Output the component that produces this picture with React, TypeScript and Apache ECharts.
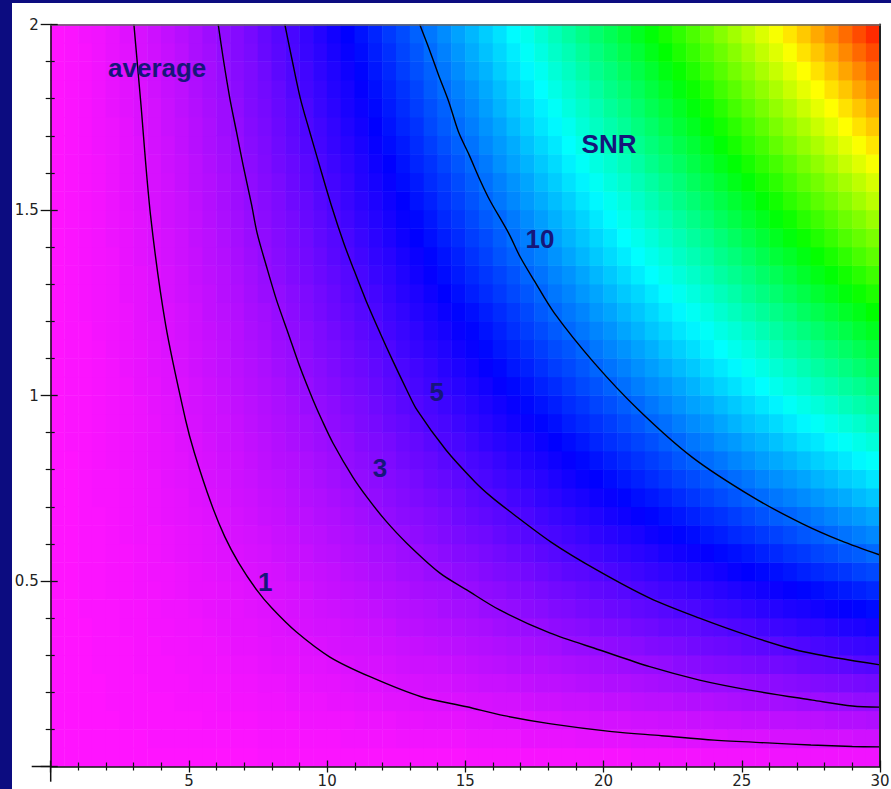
import { useEffect, useRef } from 'react';
import * as echarts from 'echarts';

// Heatmap cell centres (x: 0.5 unit, y: 0.05 unit)
const xCells = ['0.25','0.75','1.25','1.75','2.25','2.75','3.25','3.75','4.25','4.75','5.25','5.75','6.25','6.75','7.25','7.75','8.25','8.75','9.25','9.75','10.25','10.75','11.25','11.75','12.25','12.75','13.25','13.75','14.25','14.75','15.25','15.75','16.25','16.75','17.25','17.75','18.25','18.75','19.25','19.75','20.25','20.75','21.25','21.75','22.25','22.75','23.25','23.75','24.25','24.75','25.25','25.75','26.25','26.75','27.25','27.75','28.25','28.75','29.25','29.75'];
const yCells = ['0.025','0.075','0.125','0.175','0.225','0.275','0.325','0.375','0.425','0.475','0.525','0.575','0.625','0.675','0.725','0.775','0.825','0.875','0.925','0.975','1.025','1.075','1.125','1.175','1.225','1.275','1.325','1.375','1.425','1.475','1.525','1.575','1.625','1.675','1.725','1.775','1.825','1.875','1.925','1.975'];

// SNR per cell, rows from bottom (y=0.025) to top (y=1.975)
const snrRows: number[][] = [
  [0,0,0,0,0,0,0,0,0,0, 0,0,0,0,0,0.1,0.1,0.1,0.1,0.1, 0.1,0.1,0.1,0.1,0.1,0.1,0.1,0.1,0.1,0.1, 0.2,0.2,0.2,0.2,0.2,0.2,0.2,0.2,0.2,0.2, 0.2,0.2,0.3,0.3,0.3,0.3,0.3,0.3,0.3,0.3, 0.3,0.3,0.4,0.4,0.4,0.4,0.4,0.4,0.4,0.4],
  [0,0,0,0,0,0,0,0.1,0.1,0.1, 0.1,0.1,0.1,0.1,0.1,0.2,0.2,0.2,0.2,0.2, 0.2,0.3,0.3,0.3,0.3,0.4,0.4,0.4,0.4,0.4, 0.5,0.5,0.5,0.5,0.6,0.6,0.6,0.6,0.7,0.7, 0.7,0.7,0.8,0.8,0.8,0.9,0.9,0.9,0.9,1.0, 1.0,1.0,1.1,1.1,1.1,1.2,1.2,1.2,1.3,1.3],
  [0,0,0,0,0,0.1,0.1,0.1,0.1,0.1, 0.1,0.2,0.2,0.2,0.2,0.3,0.3,0.3,0.4,0.4, 0.4,0.4,0.5,0.5,0.5,0.6,0.6,0.7,0.7,0.7, 0.8,0.8,0.9,0.9,0.9,1.0,1.0,1.1,1.1,1.2, 1.2,1.2,1.3,1.3,1.4,1.4,1.5,1.5,1.6,1.6, 1.7,1.7,1.8,1.8,1.9,1.9,2.0,2.1,2.1,2.2],
  [0,0,0,0,0.1,0.1,0.1,0.1,0.1,0.2, 0.2,0.2,0.3,0.3,0.3,0.4,0.4,0.5,0.5,0.5, 0.6,0.6,0.7,0.7,0.8,0.8,0.9,0.9,1.0,1.0, 1.1,1.1,1.2,1.2,1.3,1.4,1.4,1.5,1.5,1.6, 1.7,1.7,1.8,1.9,1.9,2.0,2.1,2.1,2.2,2.3, 2.4,2.4,2.5,2.6,2.7,2.7,2.8,2.9,3.0,3.0],
  [0,0,0,0,0.1,0.1,0.1,0.2,0.2,0.2, 0.3,0.3,0.3,0.4,0.4,0.5,0.5,0.6,0.6,0.7, 0.7,0.8,0.9,0.9,1.0,1.1,1.1,1.2,1.2,1.3, 1.4,1.5,1.5,1.6,1.7,1.8,1.8,1.9,2.0,2.1, 2.2,2.2,2.3,2.4,2.5,2.6,2.7,2.8,2.8,2.9, 3.0,3.1,3.2,3.3,3.4,3.5,3.6,3.7,3.8,3.9],
  [0,0,0,0.1,0.1,0.1,0.2,0.2,0.2,0.3, 0.3,0.4,0.4,0.5,0.5,0.6,0.7,0.7,0.8,0.8, 0.9,1.0,1.1,1.1,1.2,1.3,1.4,1.4,1.5,1.6, 1.7,1.8,1.9,2.0,2.1,2.1,2.2,2.3,2.4,2.5, 2.6,2.7,2.8,2.9,3.0,3.2,3.3,3.4,3.5,3.6, 3.7,3.8,3.9,4.0,4.2,4.3,4.4,4.5,4.7,4.8],
  [0,0,0,0.1,0.1,0.1,0.2,0.2,0.3,0.3, 0.4,0.4,0.5,0.6,0.6,0.7,0.8,0.8,0.9,1.0, 1.1,1.2,1.2,1.3,1.4,1.5,1.6,1.7,1.8,1.9, 2.0,2.1,2.2,2.3,2.4,2.5,2.6,2.8,2.9,3.0, 3.1,3.2,3.3,3.5,3.6,3.7,3.9,4.0,4.1,4.2, 4.4,4.5,4.6,4.8,4.9,5.1,5.2,5.4,5.5,5.6],
  [0,0,0,0.1,0.1,0.2,0.2,0.3,0.3,0.4, 0.4,0.5,0.6,0.7,0.7,0.8,0.9,1.0,1.1,1.2, 1.2,1.3,1.4,1.5,1.6,1.8,1.9,2.0,2.1,2.2, 2.3,2.4,2.6,2.7,2.8,2.9,3.1,3.2,3.3,3.5, 3.6,3.7,3.9,4.0,4.2,4.3,4.4,4.6,4.7,4.9, 5.0,5.2,5.4,5.5,5.7,5.8,6.0,6.2,6.3,6.5],
  [0,0,0.1,0.1,0.1,0.2,0.2,0.3,0.4,0.4, 0.5,0.6,0.7,0.7,0.8,0.9,1.0,1.1,1.2,1.3, 1.4,1.5,1.6,1.7,1.9,2.0,2.1,2.2,2.4,2.5, 2.6,2.8,2.9,3.0,3.2,3.3,3.5,3.6,3.8,3.9, 4.1,4.2,4.4,4.5,4.7,4.9,5.0,5.2,5.4,5.5, 5.7,5.9,6.1,6.3,6.4,6.6,6.8,7.0,7.2,7.4],
  [0,0,0.1,0.1,0.2,0.2,0.3,0.3,0.4,0.5, 0.6,0.6,0.7,0.8,0.9,1.0,1.1,1.2,1.3,1.5, 1.6,1.7,1.8,2.0,2.1,2.2,2.4,2.5,2.6,2.8, 2.9,3.1,3.2,3.4,3.5,3.7,3.9,4.0,4.2,4.4, 4.5,4.7,4.9,5.1,5.3,5.4,5.6,5.8,6.0,6.2, 6.4,6.6,6.8,7.0,7.2,7.4,7.6,7.8,8.0,8.2],
  [0,0,0.1,0.1,0.2,0.2,0.3,0.4,0.4,0.5, 0.6,0.7,0.8,0.9,1.0,1.1,1.2,1.4,1.5,1.6, 1.7,1.9,2.0,2.2,2.3,2.5,2.6,2.8,2.9,3.1, 3.2,3.4,3.6,3.7,3.9,4.1,4.3,4.5,4.6,4.8, 5.0,5.2,5.4,5.6,5.8,6.0,6.2,6.4,6.6,6.9, 7.1,7.3,7.5,7.7,8.0,8.2,8.4,8.6,8.9,9.1],
  [0,0,0.1,0.1,0.2,0.2,0.3,0.4,0.5,0.6, 0.7,0.8,0.9,1.0,1.1,1.2,1.4,1.5,1.6,1.8, 1.9,2.1,2.2,2.4,2.5,2.7,2.8,3.0,3.2,3.4, 3.5,3.7,3.9,4.1,4.3,4.5,4.7,4.9,5.1,5.3, 5.5,5.7,5.9,6.1,6.4,6.6,6.8,7.0,7.3,7.5, 7.7,8.0,8.2,8.5,8.7,9.0,9.2,9.5,9.7,10.0],
  [0,0,0.1,0.1,0.2,0.3,0.4,0.4,0.5,0.6, 0.7,0.8,1.0,1.1,1.2,1.3,1.5,1.6,1.8,1.9, 2.1,2.2,2.4,2.6,2.7,2.9,3.1,3.3,3.5,3.7, 3.9,4.0,4.3,4.5,4.7,4.9,5.1,5.3,5.5,5.8, 6.0,6.2,6.4,6.7,6.9,7.2,7.4,7.7,7.9,8.2, 8.4,8.7,8.9,9.2,9.5,9.7,10.0,10.3,10.6,10.9],
  [0,0,0.1,0.1,0.2,0.3,0.4,0.5,0.6,0.7, 0.8,0.9,1.0,1.2,1.3,1.5,1.6,1.8,1.9,2.1, 2.2,2.4,2.6,2.8,3.0,3.2,3.3,3.5,3.7,4.0, 4.2,4.4,4.6,4.8,5.0,5.3,5.5,5.7,6.0,6.2, 6.5,6.7,7.0,7.2,7.5,7.7,8.0,8.3,8.5,8.8, 9.1,9.4,9.7,9.9,10.2,10.5,10.8,11.1,11.4,11.7],
  [0,0,0.1,0.2,0.2,0.3,0.4,0.5,0.6,0.7, 0.9,1.0,1.1,1.3,1.4,1.6,1.7,1.9,2.1,2.2, 2.4,2.6,2.8,3.0,3.2,3.4,3.6,3.8,4.0,4.2, 4.5,4.7,4.9,5.2,5.4,5.7,5.9,6.2,6.4,6.7, 6.9,7.2,7.5,7.7,8.0,8.3,8.6,8.9,9.2,9.5, 9.8,10.1,10.4,10.7,11.0,11.3,11.6,11.9,12.3,12.6],
  [0,0,0.1,0.2,0.2,0.3,0.4,0.5,0.7,0.8, 0.9,1.1,1.2,1.4,1.5,1.7,1.8,2.0,2.2,2.4, 2.6,2.8,3.0,3.2,3.4,3.6,3.8,4.1,4.3,4.5, 4.8,5.0,5.3,5.5,5.8,6.0,6.3,6.6,6.9,7.1, 7.4,7.7,8.0,8.3,8.6,8.9,9.2,9.5,9.8,10.1, 10.4,10.8,11.1,11.4,11.7,12.1,12.4,12.8,13.1,13.5],
  [0,0,0.1,0.2,0.3,0.4,0.5,0.6,0.7,0.8, 1.0,1.1,1.3,1.4,1.6,1.8,2.0,2.1,2.3,2.5, 2.7,3.0,3.2,3.4,3.6,3.9,4.1,4.3,4.6,4.8, 5.1,5.3,5.6,5.9,6.2,6.4,6.7,7.0,7.3,7.6, 7.9,8.2,8.5,8.8,9.1,9.5,9.8,10.1,10.4,10.8, 11.1,11.5,11.8,12.1,12.5,12.9,13.2,13.6,14.0,14.3],
  [0,0.1,0.1,0.2,0.3,0.4,0.5,0.6,0.7,0.9, 1.0,1.2,1.4,1.5,1.7,1.9,2.1,2.3,2.5,2.7, 2.9,3.1,3.4,3.6,3.8,4.1,4.3,4.6,4.9,5.1, 5.4,5.7,6.0,6.2,6.5,6.8,7.1,7.4,7.7,8.1, 8.4,8.7,9.0,9.3,9.7,10.0,10.4,10.7,11.1,11.4, 11.8,12.1,12.5,12.9,13.3,13.6,14.0,14.4,14.8,15.2],
  [0,0.1,0.1,0.2,0.3,0.4,0.5,0.6,0.8,0.9, 1.1,1.3,1.4,1.6,1.8,2.0,2.2,2.4,2.6,2.8, 3.1,3.3,3.6,3.8,4.1,4.3,4.6,4.9,5.1,5.4, 5.7,6.0,6.3,6.6,6.9,7.2,7.5,7.9,8.2,8.5, 8.8,9.2,9.5,9.9,10.2,10.6,11.0,11.3,11.7,12.1, 12.5,12.8,13.2,13.6,14.0,14.4,14.8,15.2,15.6,16.1],
  [0,0.1,0.1,0.2,0.3,0.4,0.5,0.7,0.8,1.0, 1.2,1.3,1.5,1.7,1.9,2.1,2.3,2.5,2.8,3.0, 3.2,3.5,3.7,4.0,4.3,4.6,4.8,5.1,5.4,5.7, 6.0,6.3,6.6,6.9,7.3,7.6,7.9,8.3,8.6,9.0, 9.3,9.7,10.0,10.4,10.8,11.2,11.6,11.9,12.3,12.7, 13.1,13.5,13.9,14.4,14.8,15.2,15.6,16.1,16.5,16.9],
  [0,0.1,0.1,0.2,0.3,0.4,0.6,0.7,0.9,1.0, 1.2,1.4,1.6,1.8,2.0,2.2,2.4,2.7,2.9,3.2, 3.4,3.7,3.9,4.2,4.5,4.8,5.1,5.4,5.7,6.0, 6.3,6.6,7.0,7.3,7.6,8.0,8.3,8.7,9.1,9.4, 9.8,10.2,10.6,11.0,11.3,11.7,12.1,12.6,13.0,13.4, 13.8,14.2,14.7,15.1,15.5,16.0,16.4,16.9,17.3,17.8],
  [0,0.1,0.1,0.2,0.3,0.5,0.6,0.8,0.9,1.1, 1.3,1.5,1.7,1.9,2.1,2.3,2.6,2.8,3.1,3.3, 3.6,3.9,4.1,4.4,4.7,5.0,5.3,5.6,6.0,6.3, 6.6,7.0,7.3,7.7,8.0,8.4,8.8,9.1,9.5,9.9, 10.3,10.7,11.1,11.5,11.9,12.3,12.7,13.2,13.6,14.0, 14.5,14.9,15.4,15.8,16.3,16.8,17.2,17.7,18.2,18.7],
  [0,0.1,0.1,0.2,0.4,0.5,0.6,0.8,1.0,1.1, 1.3,1.5,1.7,2.0,2.2,2.4,2.7,2.9,3.2,3.5, 3.7,4.0,4.3,4.6,4.9,5.3,5.6,5.9,6.2,6.6, 6.9,7.3,7.7,8.0,8.4,8.8,9.2,9.5,9.9,10.4, 10.8,11.2,11.6,12.0,12.5,12.9,13.3,13.8,14.2,14.7, 15.1,15.6,16.1,16.6,17.0,17.5,18.0,18.5,19.0,19.5],
  [0,0.1,0.1,0.3,0.4,0.5,0.7,0.8,1.0,1.2, 1.4,1.6,1.8,2.0,2.3,2.5,2.8,3.1,3.3,3.6, 3.9,4.2,4.5,4.8,5.2,5.5,5.8,6.2,6.5,6.9, 7.2,7.6,8.0,8.4,8.8,9.2,9.6,10.0,10.4,10.8, 11.2,11.7,12.1,12.6,13.0,13.5,13.9,14.4,14.9,15.3, 15.8,16.3,16.8,17.3,17.8,18.3,18.8,19.3,19.9,20.4],
  [0,0.1,0.2,0.3,0.4,0.5,0.7,0.9,1.0,1.2, 1.4,1.7,1.9,2.1,2.4,2.6,2.9,3.2,3.5,3.8, 4.1,4.4,4.7,5.0,5.4,5.7,6.1,6.4,6.8,7.2, 7.5,7.9,8.3,8.7,9.1,9.6,10.0,10.4,10.8,11.3, 11.7,12.2,12.6,13.1,13.6,14.0,14.5,15.0,15.5,16.0, 16.5,17.0,17.5,18.0,18.6,19.1,19.6,20.2,20.7,21.3],
  [0,0.1,0.2,0.3,0.4,0.6,0.7,0.9,1.1,1.3, 1.5,1.7,2.0,2.2,2.5,2.8,3.0,3.3,3.6,3.9, 4.2,4.6,4.9,5.2,5.6,6.0,6.3,6.7,7.1,7.5, 7.9,8.3,8.7,9.1,9.5,9.9,10.4,10.8,11.3,11.7, 12.2,12.7,13.1,13.6,14.1,14.6,15.1,15.6,16.1,16.6, 17.2,17.7,18.2,18.8,19.3,19.9,20.4,21.0,21.6,22.1],
  [0,0.1,0.2,0.3,0.4,0.6,0.7,0.9,1.1,1.3, 1.6,1.8,2.0,2.3,2.6,2.9,3.2,3.5,3.8,4.1, 4.4,4.7,5.1,5.5,5.8,6.2,6.6,7.0,7.4,7.8, 8.2,8.6,9.0,9.4,9.9,10.3,10.8,11.2,11.7,12.2, 12.7,13.2,13.7,14.2,14.7,15.2,15.7,16.2,16.8,17.3, 17.8,18.4,18.9,19.5,20.1,20.7,21.2,21.8,22.4,23.0],
  [0,0.1,0.2,0.3,0.4,0.6,0.8,1.0,1.2,1.4, 1.6,1.9,2.1,2.4,2.7,3.0,3.3,3.6,3.9,4.2, 4.6,4.9,5.3,5.7,6.0,6.4,6.8,7.2,7.6,8.0, 8.5,8.9,9.4,9.8,10.3,10.7,11.2,11.7,12.2,12.7, 13.2,13.7,14.2,14.7,15.2,15.8,16.3,16.8,17.4,17.9, 18.5,19.1,19.7,20.2,20.8,21.4,22.0,22.6,23.3,23.9],
  [0,0.1,0.2,0.3,0.5,0.6,0.8,1.0,1.2,1.4, 1.7,1.9,2.2,2.5,2.8,3.1,3.4,3.7,4.0,4.4, 4.7,5.1,5.5,5.9,6.3,6.7,7.1,7.5,7.9,8.3, 8.8,9.2,9.7,10.2,10.6,11.1,11.6,12.1,12.6,13.1, 13.6,14.2,14.7,15.2,15.8,16.3,16.9,17.4,18.0,18.6, 19.2,19.8,20.4,21.0,21.6,22.2,22.8,23.5,24.1,24.7],
  [0,0.1,0.2,0.3,0.5,0.6,0.8,1.0,1.3,1.5, 1.7,2.0,2.3,2.6,2.9,3.2,3.5,3.8,4.2,4.5, 4.9,5.3,5.7,6.1,6.5,6.9,7.3,7.7,8.2,8.6, 9.1,9.6,10.0,10.5,11.0,11.5,12.0,12.5,13.0,13.6, 14.1,14.7,15.2,15.8,16.3,16.9,17.5,18.1,18.7,19.3, 19.9,20.5,21.1,21.7,22.4,23.0,23.6,24.3,24.9,25.6],
  [0,0.1,0.2,0.3,0.5,0.7,0.9,1.1,1.3,1.5, 1.8,2.1,2.4,2.7,3.0,3.3,3.6,4.0,4.3,4.7, 5.1,5.5,5.9,6.3,6.7,7.1,7.6,8.0,8.5,8.9, 9.4,9.9,10.4,10.9,11.4,11.9,12.4,12.9,13.5,14.0, 14.6,15.1,15.7,16.3,16.9,17.5,18.1,18.7,19.3,19.9, 20.5,21.2,21.8,22.5,23.1,23.8,24.4,25.1,25.8,26.5],
  [0,0.1,0.2,0.3,0.5,0.7,0.9,1.1,1.3,1.6, 1.9,2.1,2.4,2.7,3.1,3.4,3.7,4.1,4.5,4.9, 5.2,5.6,6.1,6.5,6.9,7.4,7.8,8.3,8.7,9.2, 9.7,10.2,10.7,11.2,11.7,12.3,12.8,13.4,13.9,14.5, 15.1,15.6,16.2,16.8,17.4,18.0,18.7,19.3,19.9,20.6, 21.2,21.9,22.5,23.2,23.9,24.5,25.2,25.9,26.6,27.3],
  [0,0.1,0.2,0.3,0.5,0.7,0.9,1.1,1.4,1.6, 1.9,2.2,2.5,2.8,3.2,3.5,3.9,4.2,4.6,5.0, 5.4,5.8,6.2,6.7,7.1,7.6,8.1,8.5,9.0,9.5, 10.0,10.5,11.1,11.6,12.1,12.7,13.2,13.8,14.4,15.0, 15.5,16.1,16.7,17.4,18.0,18.6,19.3,19.9,20.6,21.2, 21.9,22.6,23.2,23.9,24.6,25.3,26.0,26.8,27.5,28.2],
  [0,0.1,0.2,0.4,0.5,0.7,0.9,1.2,1.4,1.7, 2.0,2.3,2.6,2.9,3.3,3.6,4.0,4.4,4.8,5.2, 5.6,6.0,6.4,6.9,7.4,7.8,8.3,8.8,9.3,9.8, 10.3,10.9,11.4,11.9,12.5,13.1,13.6,14.2,14.8,15.4, 16.0,16.6,17.3,17.9,18.5,19.2,19.8,20.5,21.2,21.9, 22.6,23.2,24.0,24.7,25.4,26.1,26.8,27.6,28.3,29.1],
  [0,0.1,0.2,0.4,0.5,0.7,1.0,1.2,1.5,1.7, 2.0,2.3,2.7,3.0,3.4,3.7,4.1,4.5,4.9,5.3, 5.7,6.2,6.6,7.1,7.6,8.1,8.5,9.1,9.6,10.1, 10.6,11.2,11.7,12.3,12.9,13.5,14.0,14.6,15.3,15.9, 16.5,17.1,17.8,18.4,19.1,19.8,20.4,21.1,21.8,22.5, 23.2,23.9,24.7,25.4,26.1,26.9,27.6,28.4,29.2,29.9],
  [0,0.1,0.2,0.4,0.6,0.8,1.0,1.2,1.5,1.8, 2.1,2.4,2.7,3.1,3.5,3.8,4.2,4.6,5.0,5.5, 5.9,6.4,6.8,7.3,7.8,8.3,8.8,9.3,9.8,10.4, 10.9,11.5,12.1,12.7,13.2,13.8,14.4,15.1,15.7,16.3, 17.0,17.6,18.3,19.0,19.6,20.3,21.0,21.7,22.4,23.2, 23.9,24.6,25.4,26.1,26.9,27.7,28.4,29.2,30.0,30.8],
  [0,0.1,0.2,0.4,0.6,0.8,1.0,1.3,1.6,1.8, 2.2,2.5,2.8,3.2,3.6,3.9,4.3,4.8,5.2,5.6, 6.1,6.5,7.0,7.5,8.0,8.5,9.0,9.6,10.1,10.7, 11.2,11.8,12.4,13.0,13.6,14.2,14.9,15.5,16.1,16.8, 17.5,18.1,18.8,19.5,20.2,20.9,21.6,22.3,23.1,23.8, 24.6,25.3,26.1,26.9,27.7,28.4,29.2,30.0,30.9,31.7],
  [0,0.1,0.2,0.4,0.6,0.8,1.1,1.3,1.6,1.9, 2.2,2.5,2.9,3.3,3.6,4.0,4.5,4.9,5.3,5.8, 6.2,6.7,7.2,7.7,8.2,8.8,9.3,9.8,10.4,11.0, 11.6,12.1,12.8,13.4,14.0,14.6,15.3,15.9,16.6,17.3, 17.9,18.6,19.3,20.0,20.8,21.5,22.2,23.0,23.7,24.5, 25.2,26.0,26.8,27.6,28.4,29.2,30.0,30.9,31.7,32.6],
  [0,0.1,0.2,0.4,0.6,0.8,1.1,1.3,1.6,1.9, 2.3,2.6,3.0,3.4,3.7,4.2,4.6,5.0,5.5,5.9, 6.4,6.9,7.4,7.9,8.4,9.0,9.5,10.1,10.7,11.3, 11.9,12.5,13.1,13.7,14.4,15.0,15.7,16.3,17.0,17.7, 18.4,19.1,19.8,20.6,21.3,22.1,22.8,23.6,24.3,25.1, 25.9,26.7,27.5,28.3,29.2,30.0,30.8,31.7,32.6,33.4],
  [0,0.1,0.3,0.4,0.6,0.9,1.1,1.4,1.7,2.0, 2.3,2.7,3.1,3.4,3.8,4.3,4.7,5.1,5.6,6.1, 6.6,7.1,7.6,8.1,8.7,9.2,9.8,10.4,11.0,11.6, 12.2,12.8,13.4,14.1,14.7,15.4,16.1,16.8,17.5,18.2, 18.9,19.6,20.4,21.1,21.9,22.6,23.4,24.2,25.0,25.8, 26.6,27.4,28.2,29.1,29.9,30.8,31.6,32.5,33.4,34.3],
];

// Contour lines [x, y]
const contour1: number[][] = [
  [3.01,2.0],[3.25,1.797],[3.61,1.487],[4.16,1.19],[4.88,0.934],[5.2,0.845],[5.8,0.71],[6.3,0.619],
  [6.8,0.549],[7.45,0.476],[8.0,0.427],[8.88,0.363],[10.1,0.295],[11.55,0.242],[13.4,0.188],[15.05,0.161],
  [16.4,0.137],[18.1,0.115],[20.3,0.094],[22.1,0.083],[24.0,0.071],[26.1,0.063],[27.5,0.058],[29.0,0.054],[30,0.053],
];
const contour3: number[][] = [
  [6.06,2.0],[6.24,1.909],[6.48,1.801],[6.72,1.711],[6.96,1.621],[7.27,1.513],[7.47,1.437],[7.81,1.347],
  [8.17,1.257],[8.59,1.168],[9.01,1.078],[9.49,0.988],[9.81,0.934],[10.21,0.872],[10.93,0.78],[11.44,0.726],
  [12.1,0.664],[12.88,0.602],[14.07,0.522],[15.05,0.476],[16.24,0.422],[18.05,0.36],[19.86,0.314],[21.67,0.269],
  [23.47,0.233],[25.28,0.206],[27.56,0.179],[29.0,0.163],[30,0.16],
];
const contour5: number[][] = [
  [8.47,2.0],[8.72,1.909],[9.03,1.801],[9.37,1.711],[9.72,1.621],[10.15,1.513],[10.6,1.411],[10.93,1.346],
  [11.4,1.257],[11.92,1.168],[12.36,1.096],[12.88,1.015],[13.25,0.961],[14.3,0.853],[15.35,0.767],[15.95,0.726],
  [16.6,0.688],[18.1,0.605],[19.75,0.53],[21.67,0.454],[23.47,0.4],[25.28,0.352],[27.2,0.31],[30,0.274],
];
const contour10: number[][] = [
  [13.35,2.0],[13.68,1.936],[14.03,1.864],[14.4,1.792],[14.75,1.711],[15.14,1.648],[15.53,1.581],[15.88,1.527],
  [16.57,1.437],[16.98,1.374],[17.48,1.311],[18.22,1.222],[19.66,1.088],[21.27,0.961],[23.2,0.834],[25.4,0.726],
  [27.2,0.654],[28.6,0.608],[30,0.57],
];

const colorStops = ['#ff14ff', '#0000ff', '#00ffff', '#00ff00', '#ffff00', '#ff0000'];

export default function App() {
  const ref = useRef<HTMLDivElement>(null);
  useEffect(() => {
    const chart = echarts.init(ref.current!, undefined, { renderer: 'svg' });
    const heat: number[][] = [];
    snrRows.forEach((row, j) => row.forEach((v, i) => heat.push([i, j, v])));

    const axisColor = '#111';
    const labelStyle = { fontFamily: '"DejaVu Sans", Verdana, sans-serif', fontSize: 15, color: '#222' };
    const hideZero = (v: number) => (v === 0 ? '' : String(v));
    const contour = (data: number[][]) => ({
      type: 'line', xAxisIndex: 0, yAxisIndex: 0, data, showSymbol: false, symbol: 'none', smooth: 0.3,
      silent: true, z: 4, lineStyle: { color: '#000', width: 1.4 },
    });
    const labelFont = 'bold 26px "Liberation Sans", Arial, sans-serif';
    const txt = (text: string, x: number, y: number, align = 'center') => ({
      type: 'text', x, y, z: 100, silent: true,
      style: { text, fill: '#16167a', font: labelFont, textAlign: align, textVerticalAlign: 'middle', align, verticalAlign: 'middle' },
    });
    const ln = (x1: number, y1: number, x2: number, y2: number) => ({
      type: 'line', z: 100, silent: true, shape: { x1, y1, x2, y2 }, style: { stroke: axisColor, lineWidth: 1.5 },
    });

    chart.setOption({
      animation: false,
      backgroundColor: '#ffffff',
      grid: { left: 38.7, right: 11, top: 21.5, bottom: 22.5, containLabel: false, outerBoundsMode: 'none' },
      visualMap: {
        type: 'continuous', show: false, min: 0, max: 35.5, dimension: 2, seriesIndex: 0,
        inRange: { color: colorStops },
      },
      xAxis: [
        {
          type: 'value', position: 'bottom', min: 0, max: 30, interval: 5, z: 10,
          axisLine: { show: true, onZero: false, lineStyle: { color: axisColor, width: 1.5 } },
          axisTick: { show: true, inside: false, length: 6, lineStyle: { color: axisColor, width: 1.3 } },
          minorTick: { show: true, splitNumber: 5, length: 4, lineStyle: { color: axisColor, width: 1.2 } },
          axisLabel: { ...labelStyle, margin: 7, formatter: hideZero },
          splitLine: { show: false },
        },
        {
          type: 'category', data: xCells, position: 'top', z: 10,
          axisLine: { show: true, onZero: false, lineStyle: { color: '#666', width: 1.5 } },
          axisTick: { show: false }, axisLabel: { show: false }, splitLine: { show: false },
        },
        {
          type: 'value', position: 'bottom', min: 0, max: 30, interval: 5, z: 10,
          axisLine: { show: false, onZero: false },
          axisTick: { show: true, inside: true, length: 6, lineStyle: { color: axisColor, width: 1.3 } },
          minorTick: { show: true, splitNumber: 5, length: 4, lineStyle: { color: axisColor, width: 1.2 } },
          axisLabel: { show: false }, splitLine: { show: false },
        },
      ],
      yAxis: [
        {
          type: 'value', position: 'left', min: 0, max: 2, interval: 0.5, z: 10,
          axisLine: { show: true, onZero: false, lineStyle: { color: axisColor, width: 1.5 } },
          axisTick: { show: true, inside: false, length: 10, lineStyle: { color: axisColor, width: 1.3 } },
          minorTick: { show: true, splitNumber: 5, length: 5, lineStyle: { color: axisColor, width: 1.2 } },
          axisLabel: { ...labelStyle, margin: 12, formatter: hideZero },
          splitLine: { show: false },
        },
        {
          type: 'category', data: yCells, position: 'right', z: 10,
          axisLine: { show: true, onZero: false, lineStyle: { color: '#222', width: 2 } },
          axisTick: { show: false }, axisLabel: { show: false }, splitLine: { show: false },
        },
        {
          type: 'value', position: 'left', min: 0, max: 2, interval: 0.5, z: 10,
          axisLine: { show: false, onZero: false },
          axisTick: { show: true, inside: true, length: 7, lineStyle: { color: axisColor, width: 1.3 } },
          minorTick: { show: true, splitNumber: 5, length: 4, lineStyle: { color: axisColor, width: 1.2 } },
          axisLabel: { show: false }, splitLine: { show: false },
        },
      ],
      series: [
        {
          type: 'heatmap', xAxisIndex: 1, yAxisIndex: 1, data: heat, silent: true,
          progressive: 0, emphasis: { disabled: true }, z: 1,
        },
        contour(contour1),
        contour(contour3),
        contour(contour5),
        contour(contour10),
      ],
      graphic: [
        ln(19.7, 763.5, 38.7, 763.5),
        ln(38.7, 763.5, 38.7, 778.7),
        txt('average', 96, 64.7, 'left'),
        txt('SNR', 597, 141.3),
        txt('10', 528, 236),
        txt('5', 424.7, 389.2),
        txt('3', 368, 464.8),
        txt('1', 253.3, 578.7),
      ],
    });
    return () => chart.dispose();
  }, []);

  return (
    <div style={{ position: 'fixed', left: 0, top: 0, width: 891, height: 789, background: '#0c0c80', overflow: 'hidden' }}>
      <div ref={ref} style={{ position: 'absolute', left: 12, top: 3, width: 879, height: 786 }} />
    </div>
  );
}
